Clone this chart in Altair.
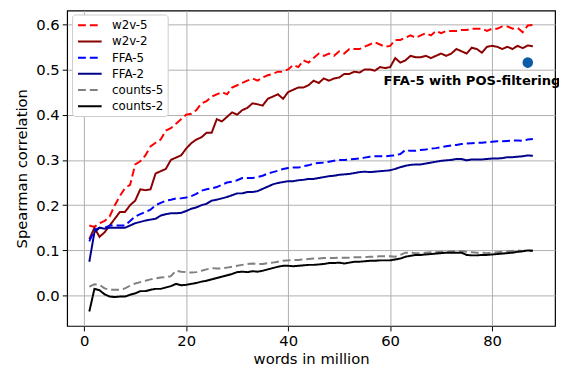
import altair as alt
import pandas as pd

words = list(range(1, 89))

w2v_5 = [0.155, 0.152, 0.16, 0.165, 0.175, 0.2, 0.22, 0.238, 0.245, 0.29,
         0.297, 0.31, 0.33, 0.338, 0.345, 0.365, 0.37, 0.38, 0.39, 0.4,
         0.402, 0.41, 0.425, 0.43, 0.44, 0.445, 0.45, 0.445, 0.46, 0.465,
         0.47, 0.475, 0.48, 0.475, 0.482, 0.487, 0.49, 0.495, 0.495, 0.5,
         0.51, 0.505, 0.52, 0.515, 0.525, 0.535, 0.53, 0.535, 0.53, 0.54,
         0.535, 0.545, 0.545, 0.545, 0.55, 0.555, 0.56, 0.555, 0.55, 0.552,
         0.565, 0.565, 0.57, 0.575, 0.57, 0.575, 0.58, 0.575, 0.585, 0.58,
         0.585, 0.585, 0.585, 0.587, 0.587, 0.59, 0.59, 0.59, 0.585, 0.59,
         0.59, 0.595, 0.595, 0.59, 0.592, 0.582, 0.597, 0.598]

w2v_2 = [0.125, 0.15, 0.13, 0.14, 0.155, 0.17, 0.185, 0.185, 0.2, 0.21,
         0.235, 0.233, 0.235, 0.27, 0.275, 0.28, 0.3, 0.305, 0.31, 0.325,
         0.337, 0.345, 0.35, 0.36, 0.36, 0.39, 0.385, 0.395, 0.405, 0.40,
         0.41, 0.415, 0.425, 0.423, 0.42, 0.435, 0.44, 0.445, 0.435, 0.45,
         0.455, 0.46, 0.46, 0.465, 0.475, 0.47, 0.48, 0.475, 0.48, 0.482,
         0.49, 0.49, 0.495, 0.493, 0.5, 0.5, 0.497, 0.505, 0.503, 0.505,
         0.525, 0.515, 0.52, 0.53, 0.527, 0.527, 0.53, 0.525, 0.53, 0.535,
         0.53, 0.535, 0.545, 0.54, 0.535, 0.548, 0.545, 0.537, 0.55, 0.552,
         0.55, 0.545, 0.55, 0.545, 0.552, 0.547, 0.553, 0.551]

ffa_5 = [0.12, 0.145, 0.15, 0.15, 0.155, 0.155, 0.155, 0.155, 0.165, 0.175,
         0.18, 0.185, 0.19, 0.2, 0.205, 0.21, 0.212, 0.215, 0.215, 0.217,
         0.22, 0.225, 0.232, 0.235, 0.237, 0.24, 0.245, 0.25, 0.252, 0.255,
         0.26, 0.26, 0.26, 0.262, 0.265, 0.27, 0.273, 0.276, 0.28, 0.282,
         0.283, 0.283, 0.286, 0.288, 0.292, 0.293, 0.294, 0.296, 0.298, 0.3,
         0.3, 0.301, 0.302, 0.303, 0.305, 0.307, 0.308, 0.308, 0.308, 0.309,
         0.31, 0.313, 0.322, 0.32, 0.32, 0.322, 0.323, 0.325, 0.326, 0.328,
         0.33, 0.332, 0.333, 0.335, 0.336, 0.337, 0.338, 0.338, 0.339, 0.34,
         0.341, 0.341, 0.342, 0.343, 0.343, 0.342, 0.345, 0.346]

ffa_2 = [0.075, 0.14, 0.15, 0.148, 0.15, 0.15, 0.15, 0.15, 0.155, 0.16,
         0.163, 0.166, 0.168, 0.17, 0.177, 0.18, 0.182, 0.182, 0.183, 0.187,
         0.192, 0.195, 0.2, 0.203, 0.21, 0.212, 0.215, 0.218, 0.222, 0.226,
         0.226, 0.229, 0.229, 0.231, 0.236, 0.241, 0.246, 0.249, 0.251, 0.253,
         0.253, 0.255, 0.256, 0.258, 0.258, 0.26, 0.262, 0.264, 0.265, 0.267,
         0.268, 0.269, 0.271, 0.273, 0.274, 0.273, 0.274, 0.275, 0.276, 0.277,
         0.28, 0.284, 0.287, 0.289, 0.29, 0.29, 0.292, 0.294, 0.296, 0.298,
         0.299, 0.3, 0.302, 0.302, 0.299, 0.301, 0.301, 0.301, 0.302, 0.303,
         0.303, 0.304, 0.306, 0.306, 0.307, 0.308, 0.31, 0.309]

counts_5 = [0.02, 0.025, 0.024, 0.016, 0.013, 0.013, 0.013, 0.016, 0.022, 0.027,
            0.03, 0.033, 0.036, 0.038, 0.04, 0.041, 0.043, 0.055, 0.053, 0.052,
            0.051, 0.052, 0.055, 0.058, 0.061, 0.06, 0.06, 0.062, 0.064, 0.066,
            0.068, 0.07, 0.071, 0.07, 0.07, 0.072, 0.073, 0.075, 0.077, 0.078,
            0.079, 0.079, 0.08, 0.081, 0.082, 0.082, 0.083, 0.083, 0.083, 0.084,
            0.084, 0.084, 0.085, 0.085, 0.085, 0.086, 0.086, 0.087, 0.087, 0.087,
            0.086, 0.09, 0.095, 0.095, 0.094, 0.094, 0.095, 0.096, 0.096, 0.097,
            0.097, 0.098, 0.098, 0.098, 0.097, 0.096, 0.095, 0.095, 0.094, 0.095,
            0.096, 0.097, 0.098, 0.099, 0.1, 0.099, 0.1, 0.1]

counts_2 = [-0.035, 0.015, 0.012, 0.003, -0.002, -0.003, -0.002, -0.002, 0.002, 0.005,
            0.01, 0.01, 0.013, 0.015, 0.015, 0.018, 0.021, 0.026, 0.023, 0.024,
            0.026, 0.028, 0.031, 0.033, 0.036, 0.039, 0.042, 0.045, 0.048, 0.052,
            0.053, 0.052, 0.054, 0.053, 0.055, 0.058, 0.061, 0.064, 0.066, 0.066,
            0.065, 0.066, 0.067, 0.068, 0.068, 0.069, 0.07, 0.072, 0.072, 0.073,
            0.071, 0.073, 0.075, 0.075, 0.076, 0.077, 0.077, 0.078, 0.078, 0.078,
            0.08, 0.082, 0.086, 0.088, 0.09, 0.09, 0.091, 0.092, 0.093, 0.094,
            0.095, 0.095, 0.095, 0.095, 0.09, 0.089, 0.089, 0.09, 0.09, 0.091,
            0.092, 0.093, 0.094, 0.095, 0.097, 0.098, 0.1, 0.099]

series_names = ["w2v-5", "w2v-2", "FFA-5", "FFA-2", "counts-5", "counts-2"]
series_values = [w2v_5, w2v_2, ffa_5, ffa_2, counts_5, counts_2]
series_colors = ["#ff0000", "#8b0000", "#0000ff", "#00008b", "#808080", "#000000"]
series_dash = [[8, 4], [1, 0], [8, 4], [1, 0], [8, 4], [1, 0]]

pos_x = [87]
pos_y = [0.515]
ann_x = [93.4]
ann_y = [0.475]
ann_text = ["FFA-5 with POS-filtering"]

x_ticks = [0, 20, 40, 60, 80]
y_ticks = [0.0, 0.1, 0.2, 0.3, 0.4, 0.5, 0.6]

rows = []
for name, vals in zip(series_names, series_values):
    for xv, yv in zip(words, vals):
        rows.append({"series": name, "words": xv, "rho": yv})
df = pd.DataFrame(rows)

xscale = alt.Scale(domain=[-3.35, 92.35], nice=False, zero=False)
yscale = alt.Scale(domain=[-0.067, 0.63], nice=False, zero=False)

FS = 15
xaxis = alt.Axis(values=x_ticks, title="words in million", format="d",
                 grid=True, gridColor="#b0b0b0", gridWidth=1,
                 tickColor="black", tickSize=5, labelPadding=3,
                 labelFontSize=FS, titleFontSize=FS, titleFontWeight="normal",
                 titlePadding=3, labelColor="black", titleColor="black",
                 domain=False)
yaxis = alt.Axis(values=y_ticks, title="Spearman correlation", format=".1f",
                 grid=True, gridColor="#b0b0b0", gridWidth=1,
                 tickColor="black", tickSize=5, labelPadding=3,
                 labelFontSize=FS, titleFontSize=FS, titleFontWeight="normal",
                 titlePadding=6, labelColor="black", titleColor="black",
                 domain=False)

lines = alt.Chart(df).mark_line(strokeWidth=2, clip=True).encode(
    x=alt.X("words:Q", scale=xscale, axis=xaxis),
    y=alt.Y("rho:Q", scale=yscale, axis=yaxis),
    color=alt.Color("series:N", sort=series_names,
                    scale=alt.Scale(domain=series_names, range=series_colors),
                    legend=alt.Legend(title=None, orient="none", legendX=5, legendY=4,
                                      symbolType="M-0.833,0H3.167",
                                      symbolStrokeWidth=2,
                                      symbolSize=144, labelFontSize=12,
                                      labelColor="black", rowPadding=3.4,
                                      padding=4, strokeColor="#cccccc",
                                      fillColor="white", cornerRadius=3,
                                      labelOffset=22.5)),
    strokeDash=alt.StrokeDash("series:N", sort=series_names,
                              scale=alt.Scale(domain=series_names, range=series_dash),
                              legend=None),
    detail="series:N",
)

pt_df = pd.DataFrame({"x": pos_x, "y": pos_y})
point = alt.Chart(pt_df).mark_circle(size=115, color="#0b5ca4", opacity=1).encode(
    x=alt.X("x:Q", scale=xscale),
    y=alt.Y("y:Q", scale=yscale),
)

ann_df = pd.DataFrame({"x": ann_x, "y": ann_y, "t": ann_text})
ann = alt.Chart(ann_df).mark_text(align="right", baseline="middle", fontSize=13.3,
                                  fontWeight="bold", color="black").encode(
    x=alt.X("x:Q", scale=xscale),
    y=alt.Y("y:Q", scale=yscale),
    text="t:N",
)

chart = alt.layer(lines, point, ann).properties(
    width=495, height=320,
    padding={"left": 60, "top": 0, "right": 4, "bottom": 38},
    autosize="none",
).configure(font="DejaVu Sans").configure_view(stroke="black", strokeWidth=1.2)

chart.save("out.html", embed_options={"renderer": "svg", "actions": False})
